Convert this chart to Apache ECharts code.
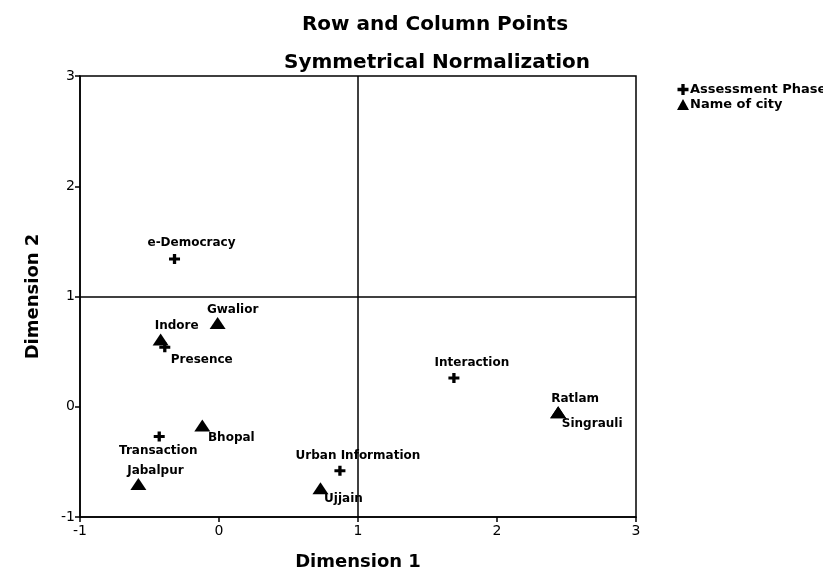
<!DOCTYPE html>
<html>
<head>
<meta charset="utf-8">
<script src="https://cdn.jsdelivr.net/npm/echarts@6/dist/echarts.min.js"></script>
<style>
html,body{margin:0;padding:0;background:#fff;}
#chart{width:823px;height:576px;}
</style>
</head>
<body>
<div id="chart"></div>
<script>
// Data
var phaseNames = ['e-Democracy', 'Presence', 'Transaction', 'Urban Information', 'Interaction'];
var phaseX = [-0.32, -0.39, -0.43, 0.87, 1.69];
var phaseY = [1.34, 0.54, -0.27, -0.58, 0.26];

var cityNames = ['Gwalior', 'Indore', 'Bhopal', 'Jabalpur', 'Ujjain', 'Ratlam', 'Singrauli'];
var cityX = [-0.01, -0.42, -0.12, -0.58, 0.73, 2.44, 2.44];
var cityY = [0.76, 0.61, -0.17, -0.70, -0.74, -0.05, -0.05];

var xTicks = [-1, 0, 1, 2, 3];
var yTicks = [-1, 0, 1, 2, 3];
var refX = 1, refY = 1;

// label placement (style only)
var labelOffset = {
  'e-Democracy': [17, -16], 'Presence': [37, 13], 'Transaction': [-1, 14],
  'Urban Information': [18, -15], 'Interaction': [18, -15],
  'Gwalior': [15, -13], 'Indore': [16, -14], 'Bhopal': [29, 12], 'Jabalpur': [17, -13],
  'Ujjain': [23, 11], 'Ratlam': [17, -13], 'Singrauli': [34, 12]
};

var FONT = 'DejaVu Sans';
var INK = '#000';
var plusPath = 'path://M3.5,0H6.5V3.5H10V6.5H6.5V10H3.5V6.5H0V3.5H3.5Z';

function build(names, xs, ys) {
  return names.map(function (n, i) {
    return {
      name: n,
      value: [xs[i], ys[i]],
      label: { offset: labelOffset[n] || [0, -14] }
    };
  });
}

var labelStyle = {
  show: true,
  position: 'inside',
  formatter: '{b}',
  color: INK,
  fontFamily: FONT,
  fontSize: 12,
  fontWeight: 'bold',
  align: 'center',
  verticalAlign: 'middle'
};

var chart = echarts.init(document.getElementById('chart'), null, { renderer: 'canvas' });
chart.setOption({
  backgroundColor: '#ffffff',
  animation: false,
  title: [
    { text: 'Row and Column Points', left: 430, top: 10, textAlign: 'center',
      textStyle: { fontFamily: FONT, fontSize: 20, fontWeight: 'bold', color: INK } },
    { text: 'Symmetrical Normalization', left: 432, top: 48, textAlign: 'center',
      textStyle: { fontFamily: FONT, fontSize: 20, fontWeight: 'bold', color: INK } }
  ],
  legend: {
    orient: 'vertical',
    left: 672,
    top: 78,
    itemGap: 2,
    itemWidth: 12,
    itemHeight: 11,
    textStyle: { fontFamily: FONT, fontSize: 13, fontWeight: 'bold', color: INK, padding: [0, 0, 0, -4] },
    data: [
      { name: 'Assessment Phase', icon: plusPath },
      { name: 'Name of city', icon: 'triangle' }
    ]
  },
  grid: {
    left: 80, right: 187, top: 76, bottom: 58,
    show: true, borderColor: INK, borderWidth: 1.5, backgroundColor: 'transparent'
  },
  xAxis: {
    type: 'value', min: xTicks[0], max: xTicks[xTicks.length - 1], interval: 1,
    name: 'Dimension 1', nameLocation: 'middle', nameGap: 36,
    nameTextStyle: { fontFamily: FONT, fontSize: 18, fontWeight: 'bold', color: INK },
    axisLine: { show: true, onZero: false, lineStyle: { color: INK, width: 1.5 } },
    axisTick: { show: true, length: 5, lineStyle: { color: INK, width: 1.5 } },
    axisLabel: { fontFamily: FONT, fontSize: 14, color: INK, margin: 7 },
    splitLine: { show: false }
  },
  yAxis: {
    type: 'value', min: yTicks[0], max: yTicks[yTicks.length - 1], interval: 1,
    name: 'Dimension 2', nameLocation: 'middle', nameGap: 38, nameRotate: 90,
    nameTextStyle: { fontFamily: FONT, fontSize: 18, fontWeight: 'bold', color: INK },
    axisLine: { show: true, onZero: false, lineStyle: { color: INK, width: 1.5 } },
    axisTick: { show: true, length: 5, lineStyle: { color: INK, width: 1.5 } },
    axisLabel: { fontFamily: FONT, fontSize: 14, color: INK, margin: 5 },
    splitLine: { show: false }
  },
  series: [
    {
      name: 'Assessment Phase',
      type: 'scatter',
      symbol: plusPath,
      symbolSize: [11, 10],
      itemStyle: { color: INK, opacity: 1 },
      label: labelStyle,
      emphasis: { disabled: true },
      data: build(phaseNames, phaseX, phaseY),
      markLine: {
        silent: true,
        symbol: ['none', 'none'],
        label: { show: false },
        lineStyle: { color: INK, width: 1.5, type: 'solid' },
        data: [{ xAxis: refX }, { yAxis: refY }]
      },
      z: 3
    },
    {
      name: 'Name of city',
      type: 'scatter',
      symbol: 'triangle',
      symbolSize: [16, 12],
      itemStyle: { color: INK, opacity: 1 },
      label: labelStyle,
      emphasis: { disabled: true },
      data: build(cityNames, cityX, cityY),
      z: 3
    }
  ]
});
</script>
</body>
</html>
